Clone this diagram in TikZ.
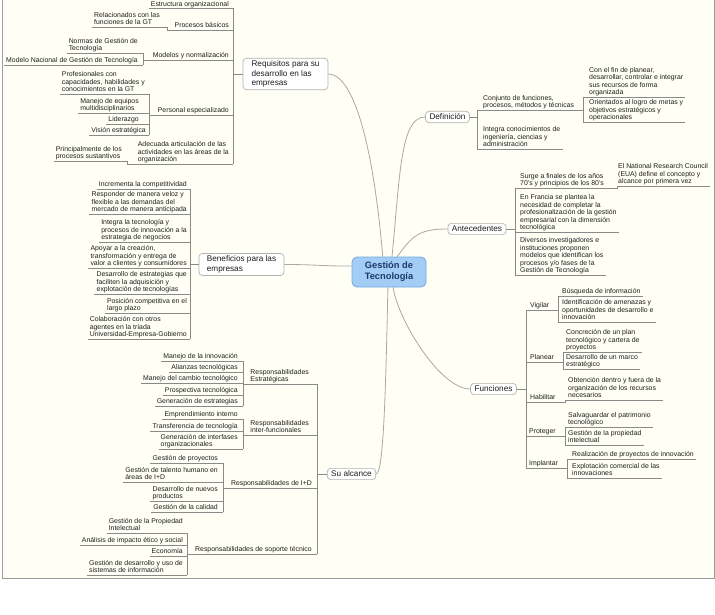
\documentclass[tikz,border=0pt]{standalone}
\usepackage{fontspec}
\setmainfont{Liberation Sans}
\definecolor{paper}{HTML}{FFFFF5}
\definecolor{framegray}{HTML}{9C9C9C}
\definecolor{linkgray}{HTML}{A8A8A8}
\definecolor{ulgray}{HTML}{8A8A8A}
\definecolor{ink}{HTML}{1E1E1E}
\definecolor{gtfill}{HTML}{A3CDF5}
\definecolor{gtdraw}{HTML}{74A9DE}
\definecolor{gtink}{HTML}{1C396A}
\tikzstyle{central}=[draw=gtdraw,fill=gtfill,rounded corners=5pt,line width=0.8pt,align=center,text=gtink,font=\fontsize{9.3}{11}\selectfont\bfseries,minimum width=74pt,minimum height=30pt,inner sep=2pt]
\tikzstyle{topic}=[draw=gray!60,fill=white,rounded corners=3.5pt,line width=0.7pt,align=left,text=ink,font=\fontsize{8.2}{9.3}\selectfont,inner xsep=4pt,inner ysep=2.6pt]
\tikzstyle{sub}=[align=left,text=ink,font=\fontsize{6.9}{7.5}\selectfont,inner xsep=2pt,inner ysep=0.6pt,execute at end node={\rule[-1.6pt]{0pt}{1pt}}]
\tikzstyle{ul}=[draw=ulgray,line width=0.6pt]
\tikzstyle{branch}=[draw=linkgray,line width=0.8pt]

\begin{document}
\begin{tikzpicture}[x=1pt,y=-1pt]
\useasboundingbox (0, 0) rectangle (715, 615);
\fill[paper] (2, -3) rectangle (714, 578);
\draw[framegray, line width=0.9pt] (2, -3) rectangle (714, 578);

% centre and main branches
\node[central] at (389, 272) (gt) {Gestión de\\Tecnología};
\node[topic, minimum width=85pt] at (285.5, 74) (req) {Requisitos para su\\desarrollo en las\\empresas};
\node[topic, minimum width=85pt] at (241.5, 264.5) (ben) {Beneficios para las\\empresas};
\node[topic] at (351.5, 474) (alc) {Su alcance};
\node[topic] at (447.5, 117) (def) {Definición};
\node[topic] at (477, 229) (ant) {Antecedentes};
\node[topic] at (493.5, 389) (fun) {Funciones};

\draw[branch] (req.east) .. controls +(22, 0) and +(-11, -127) .. (gt.112);
\draw[branch] (ben.east) .. controls +(30, 0) and +(-30, 0) .. (gt.171);
\draw[branch] (alc.east) .. controls +(8, 0) and +(-2, 87) .. (gt.-94);
\draw[branch] (def.west) .. controls +(-25, 0) and +(8, -80) .. (gt.79);
\draw[branch] (ant.west) .. controls +(-30, 0) and +(15, -20) .. (gt.62);
\draw[branch] (fun.west) .. controls +(-30, 0) and +(5, 33) .. (gt.-75);

% buses
\coordinate (rbus) at (233, 0);
\coordinate (r2b) at (167, 0);
\coordinate (r3b) at (143, 0);
\coordinate (r4b) at (149, 0);
\coordinate (r5b) at (127, 0);
\coordinate (bbus) at (190, 0);
\coordinate (sbus) at (317, 0);
\coordinate (s1b) at (243, 0);
\coordinate (s2b) at (243, 0);
\coordinate (s3b) at (223, 0);
\coordinate (s4b) at (187, 0);
\coordinate (dbus) at (477, 0);
\coordinate (d1b) at (583, 0);
\coordinate (abus) at (515, 0);
\coordinate (a1b) at (617, 0);
\coordinate (fbus) at (526, 0);
\coordinate (f1b) at (558, 0);
\coordinate (f2b) at (563, 0);
\coordinate (f3b) at (565, 0);
\coordinate (f4b) at (565, 0);
\coordinate (f5b) at (567, 0);

% Requisitos
\node[sub, anchor=south east] at (231, 8.5) (r1) {Estructura organizacional};
\node[sub, anchor=south east] at (231, 30) (r2) {Procesos básicos};
\node[sub, anchor=south east] at (162, 27) (r21) {Relacionados con las\\funciones de la GT};
\node[sub, anchor=south east] at (231, 60) (r3) {Modelos y normalización};
\node[sub, anchor=south east] at (140, 53) (r31) {Normas de Gestión de\\Tecnología};
\node[sub, anchor=south east] at (140, 65) (r32) {Modelo Nacional de Gestión de Tecnología};
\node[sub, anchor=south east] at (231, 115) (r4) {Personal especializado};
\node[sub, anchor=south east] at (147, 94) (r41) {Profesionales con\\capacidades, habilidades y\\conocimientos en la GT};
\node[sub, anchor=south east] at (141, 113) (r42) {Manejo de equipos\\multidisciplinarios};
\node[sub, anchor=south east] at (141, 124) (r43) {Liderazgo};
\node[sub, anchor=south east] at (148, 135) (r44) {Visión estratégica};
\node[sub, anchor=south east] at (231, 164) (r5) {Adecuada articulación de las\\actividades en las áreas de la\\organización};
\node[sub, anchor=south east] at (124, 161) (r51) {Principalmente de los\\procesos sustantivos};

\draw[ul] (req.west) -- (req.west -| rbus);
\draw[ul] (r1.south -| rbus) -- (r5.south -| rbus);
\draw[ul] (r1.south west) -- (r1.south -| rbus);
\draw[ul] (r2.south -| r2b) -- (r2.south -| rbus);
\draw[ul] (r21.south west) -- (r21.south -| r2b) -- (r2.south -| r2b);
\draw[ul] (r3.south -| r3b) -- (r3.south -| rbus);
\draw[ul] (r31.south west) -- (r31.south -| r3b) -- (r32.south -| r3b);
\draw[ul] (r32.south west) -- (r32.south -| r3b);
\draw[ul] (r4.south -| r4b) -- (r4.south -| rbus);
\draw[ul] (r41.south west) -- (r41.south -| r4b) -- (r44.south -| r4b);
\draw[ul] (r42.south west) -- (r42.south -| r4b);
\draw[ul] (r43.south west) -- (r43.south -| r4b);
\draw[ul] (r44.south west) -- (r44.south -| r4b);
\draw[ul] (r5.south -| r5b) -- (r5.south -| rbus);
\draw[ul] (r51.south west) -- (r51.south -| r5b) -- (r5.south -| r5b);

% Beneficios
\node[sub, anchor=south east] at (189, 189) (b1) {Incrementa la competitividad};
\node[sub, anchor=south east] at (189, 214) (b2) {Responder de manera veloz y\\flexible a las demandas del\\mercado de manera anticipada};
\node[sub, anchor=south east] at (189, 242) (b3) {Integra la tecnología y\\procesos de innovación a la\\estrategia de negocios};
\node[sub, anchor=south east] at (189, 268) (b4) {Apoyar a la creación,\\transformación y entrega de\\valor a clientes y consumidores};
\node[sub, anchor=south east] at (189, 294) (b5) {Desarrollo de estrategias que\\faciliten la adquisición y\\explotación de tecnologías};
\node[sub, anchor=south east] at (189, 313) (b6) {Posición competitiva en el\\largo plazo};
\node[sub, anchor=south east] at (189, 339) (b7) {Colaboración con otros\\agentes en la tríada\\Universidad-Empresa-Gobierno};

\draw[ul] (ben.west) -- (ben.west -| bbus);
\draw[ul] (b1.south -| bbus) -- (b7.south -| bbus);
\draw[ul] (b1.south west) -- (b1.south -| bbus);
\draw[ul] (b2.south west) -- (b2.south -| bbus);
\draw[ul] (b3.south west) -- (b3.south -| bbus);
\draw[ul] (b4.south west) -- (b4.south -| bbus);
\draw[ul] (b5.south west) -- (b5.south -| bbus);
\draw[ul] (b6.south west) -- (b6.south -| bbus);
\draw[ul] (b7.south west) -- (b7.south -| bbus);

% Su alcance
\node[sub, anchor=south east] at (311, 384) (s1) {Responsabilidades\\Estratégicas};
\node[sub, anchor=south east] at (240, 361) (s11) {Manejo de la innovación};
\node[sub, anchor=south east] at (240, 372) (s12) {Alianzas tecnológicas};
\node[sub, anchor=south east] at (240, 383) (s13) {Manejo del cambio tecnológico};
\node[sub, anchor=south east] at (240, 395) (s14) {Prospectiva tecnológica};
\node[sub, anchor=south east] at (240, 406) (s15) {Generación de estrategias};
\node[sub, anchor=south east] at (311, 435) (s2) {Responsabilidades\\inter-funcionales};
\node[sub, anchor=south east] at (240, 419) (s21) {Emprendimiento interno};
\node[sub, anchor=south east] at (240, 431) (s22) {Transferencia de tecnología};
\node[sub, anchor=south east] at (240, 449) (s23) {Generación de interfases\\organizacionales};
\node[sub, anchor=south east] at (314, 488) (s3) {Responsabilidades de I+D};
\node[sub, anchor=south east] at (220, 463) (s31) {Gestión de proyectos};
\node[sub, anchor=south east] at (220, 482) (s32) {Gestión de talento humano en\\áreas de I+D};
\node[sub, anchor=south east] at (220, 501) (s33) {Desarrollo de nuevos\\productos};
\node[sub, anchor=south east] at (220, 512) (s34) {Gestión de la calidad};
\node[sub, anchor=south east] at (314, 554) (s4) {Responsabilidades de soporte técnico};
\node[sub, anchor=south east] at (185, 533) (s41) {Gestión de la Propiedad\\Intelectual};
\node[sub, anchor=south east] at (185, 545) (s42) {Análisis de impacto ético y social};
\node[sub, anchor=south east] at (185, 556) (s43) {Economía};
\node[sub, anchor=south east] at (185, 575) (s44) {Gestión de desarrollo y uso de\\sistemas de información};

\draw[ul] (alc.west) -- (alc.west -| sbus);
\draw[ul] (s1.south -| sbus) -- (s4.south -| sbus);
\draw[ul] (s1.south -| s1b) -- (s1.south -| sbus);
\draw[ul] (s11.south -| s1b) -- (s15.south -| s1b);
\draw[ul] (s11.south west) -- (s11.south -| s1b);
\draw[ul] (s12.south west) -- (s12.south -| s1b);
\draw[ul] (s13.south west) -- (s13.south -| s1b);
\draw[ul] (s14.south west) -- (s14.south -| s1b);
\draw[ul] (s15.south west) -- (s15.south -| s1b);
\draw[ul] (s2.south -| s2b) -- (s2.south -| sbus);
\draw[ul] (s21.south -| s2b) -- (s23.south -| s2b);
\draw[ul] (s21.south west) -- (s21.south -| s2b);
\draw[ul] (s22.south west) -- (s22.south -| s2b);
\draw[ul] (s23.south west) -- (s23.south -| s2b);
\draw[ul] (s3.south -| s3b) -- (s3.south -| sbus);
\draw[ul] (s31.south -| s3b) -- (s34.south -| s3b);
\draw[ul] (s31.south west) -- (s31.south -| s3b);
\draw[ul] (s32.south west) -- (s32.south -| s3b);
\draw[ul] (s33.south west) -- (s33.south -| s3b);
\draw[ul] (s34.south west) -- (s34.south -| s3b);
\draw[ul] (s4.south -| s4b) -- (s4.south -| sbus);
\draw[ul] (s41.south -| s4b) -- (s44.south -| s4b);
\draw[ul] (s41.south west) -- (s41.south -| s4b);
\draw[ul] (s42.south west) -- (s42.south -| s4b);
\draw[ul] (s43.south west) -- (s43.south -| s4b);
\draw[ul] (s44.south west) -- (s44.south -| s4b);

% Definicion
\node[sub, anchor=south west] at (481, 110) (d1) {Conjunto de funciones,\\procesos, métodos y técnicas};
\node[sub, anchor=south west] at (587, 97) (d11) {Con el fin de planear,\\desarrollar, controlar e integrar\\sus recursos de forma\\organizada};
\node[sub, anchor=south west] at (587, 122) (d12) {Orientados al logro de metas y\\objetivos estratégicos y\\operacionales};
\node[sub, anchor=south west] at (481, 149) (d2) {Integra conocimientos de\\ingeniería, ciencias y\\administración};

\draw[ul] (def.east) -- (def.east -| dbus);
\draw[ul] (dbus |- d1.south) -- (dbus |- d2.south);
\draw[ul] (dbus |- d1.south) -- (d1b |- d1.south);
\draw[ul] (d1b |- d11.south) -- (d1b |- d12.south);
\draw[ul] (d1b |- d11.south) -- (d11.south east);
\draw[ul] (d1b |- d12.south) -- (d12.south east);
\draw[ul] (dbus |- d2.south) -- (d2.south east);

% Antecedentes
\node[sub, anchor=south west] at (518, 188) (a1) {Surge a finales de los años\\70's y principios de los 80's};
\node[sub, anchor=south west] at (616, 186) (a11) {El National Research Council\\(EUA) define el concepto y\\alcance por primera vez};
\node[sub, anchor=south west] at (518, 232) (a2) {En Francia se plantea la\\necesidad de completar la\\profesionalización de la gestión\\empresarial con la dimensión\\tecnológica};
\node[sub, anchor=south west] at (518, 275) (a3) {Diversos investigadores e\\instituciones proponen\\modelos que identifican los\\procesos y/o fases de la\\Gestión de Tecnología};

\draw[ul] (ant.east) -- (ant.east -| abus);
\draw[ul] (abus |- a1.south) -- (abus |- a3.south);
\draw[ul] (abus |- a1.south) -- (a1b |- a1.south) -- (a1b |- a11.south) -- (a11.south east);
\draw[ul] (abus |- a2.south) -- (a2.south east);
\draw[ul] (abus |- a3.south) -- (a3.south east);

% Funciones
\node[sub, anchor=south west] at (528, 310) (f1) {Vigilar};
\node[sub, anchor=south west] at (560, 296) (f11) {Búsqueda de información};
\node[sub, anchor=south west] at (560, 322) (f12) {Identificación de amenazas y\\oportunidades de desarrollo e\\innovación};
\node[sub, anchor=south west] at (528, 362) (f2) {Planear};
\node[sub, anchor=south west] at (564, 352) (f21) {Concreción de un plan\\tecnológico y cartera de\\proyectos};
\node[sub, anchor=south west] at (564, 369) (f22) {Desarrollo de un marco\\estratégico};
\node[sub, anchor=south west] at (528, 402) (f3) {Habilitar};
\node[sub, anchor=south west] at (566, 400) (f31) {Obtención dentro y fuera de la\\organización de los recursos\\necesarios};
\node[sub, anchor=south west] at (527, 436) (f4) {Proteger};
\node[sub, anchor=south west] at (566, 427) (f41) {Salvaguardar el patrimonio\\tecnológico};
\node[sub, anchor=south west] at (566, 445) (f42) {Gestión de la propiedad\\intelectual};
\node[sub, anchor=south west] at (527, 468) (f5) {Implantar};
\node[sub, anchor=south west] at (570, 459) (f51) {Realización de proyectos de innovación};
\node[sub, anchor=south west] at (570, 478) (f52) {Explotación comercial de las\\innovaciones};

\draw[ul] (fun.east) -- (fun.east -| fbus);
\draw[ul] (fbus |- f1.south) -- (fbus |- f5.south);
\draw[ul] (fbus |- f1.south) -- (f1b |- f1.south);
\draw[ul] (f1b |- f11.south) -- (f1b |- f12.south);
\draw[ul] (f1b |- f11.south) -- (f11.south east);
\draw[ul] (f1b |- f12.south) -- (f12.south east);
\draw[ul] (fbus |- f2.south) -- (f2b |- f2.south);
\draw[ul] (f2b |- f21.south) -- (f2b |- f22.south);
\draw[ul] (f2b |- f21.south) -- (f21.south east);
\draw[ul] (f2b |- f22.south) -- (f22.south east);
\draw[ul] (fbus |- f3.south) -- (f3b |- f3.south) -- (f3b |- f31.south) -- (f31.south east);
\draw[ul] (fbus |- f4.south) -- (f4b |- f4.south);
\draw[ul] (f4b |- f41.south) -- (f4b |- f42.south);
\draw[ul] (f4b |- f41.south) -- (f41.south east);
\draw[ul] (f4b |- f42.south) -- (f42.south east);
\draw[ul] (fbus |- f5.south) -- (f5b |- f5.south);
\draw[ul] (f5b |- f51.south) -- (f5b |- f52.south);
\draw[ul] (f5b |- f51.south) -- (f51.south east);
\draw[ul] (f5b |- f52.south) -- (f52.south east);
\end{tikzpicture}
\end{document}
